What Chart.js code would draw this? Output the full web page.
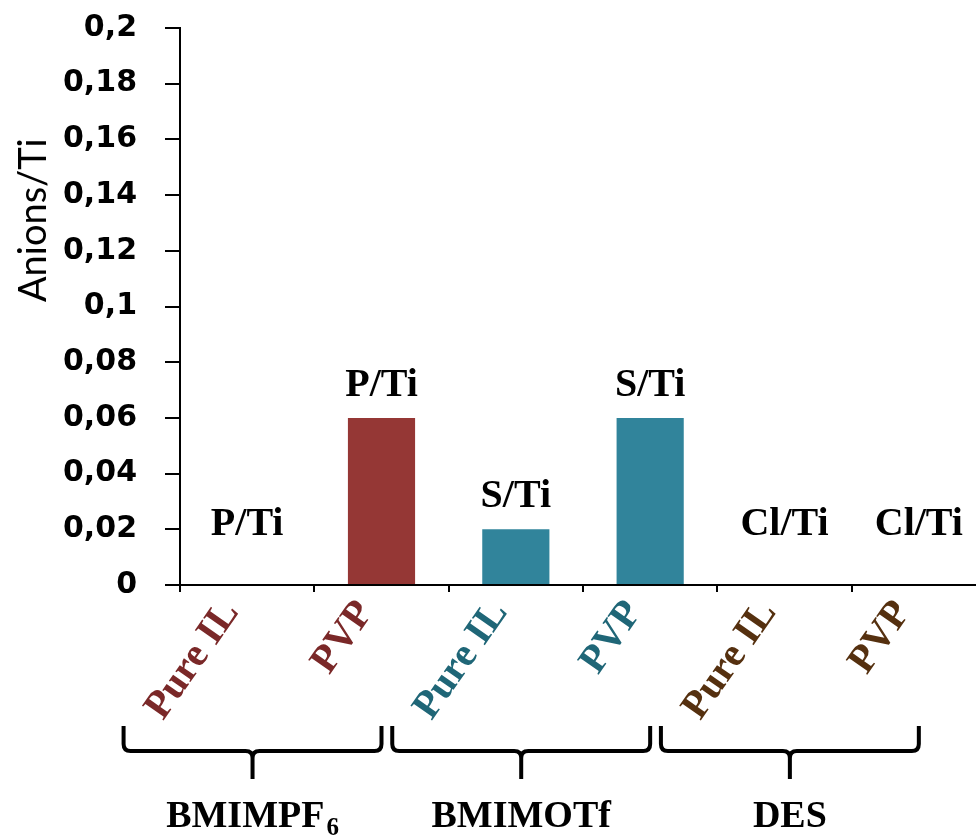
<!DOCTYPE html>
<html><head><meta charset="utf-8">
<script src="https://cdn.jsdelivr.net/npm/chart.js@4"></script>
<style>html,body{margin:0;padding:0;background:#fff;overflow:hidden}#wrap{width:990px;height:839px}canvas{display:block}</style>
</head><body>
<div id="wrap"><canvas id="c" width="990" height="839"></canvas></div>
<script>
// ---- data ----
const categories = ['Pure IL', 'PVP', 'Pure IL', 'PVP', 'Pure IL', 'PVP'];
const values = [0, 0.06, 0.02, 0.06, 0, 0];
const barLabels = ['P/Ti', 'P/Ti', 'S/Ti', 'S/Ti', 'Cl/Ti', 'Cl/Ti'];
const groupNames = ['BMIMPF', 'BMIMOTf', 'DES'];
const groupSubscripts = ['6', '', ''];
const groupFirst = [0, 2, 4];
const groupLast = [1, 3, 5];
const yTickLabels = ['0', '0,02', '0,04', '0,06', '0,08', '0,1', '0,12', '0,14', '0,16', '0,18', '0,2'];
const yTitle = 'Anions/Ti';

// ---- styles ----
const barColors = ['#953735', '#953735', '#31849B', '#31849B', '#7a4a1f', '#7a4a1f'];
const tickColors = ['#7a2828', '#7a2828', '#1f6677', '#1f6677', '#55300f', '#55300f'];
const SERIF = '"Liberation Serif", "Times New Roman", serif';

const yTitlePlugin = {
  id: 'yTitle',
  afterDraw(chart) {
    const { ctx, chartArea } = chart;
    ctx.save();
    ctx.translate(34, chartArea.top + (chartArea.bottom - chartArea.top) * 0.345);
    ctx.rotate(-Math.PI / 2);
    ctx.font = '38px Lato, "Open Sans", sans-serif';
    ctx.fillStyle = '#000';
    ctx.textAlign = 'center';
    ctx.textBaseline = 'middle';
    ctx.fillText(yTitle, 0, 0);
    ctx.restore();
  }
};

const barLabelPlugin = {
  id: 'barLabels',
  afterDatasetsDraw(chart) {
    const { ctx } = chart;
    const meta = chart.getDatasetMeta(0);
    const zero = chart.scales.y.getPixelForValue(0);
    ctx.save();
    ctx.font = 'bold 40px ' + SERIF;
    ctx.fillStyle = '#000';
    ctx.textAlign = 'center';
    ctx.textBaseline = 'alphabetic';
    meta.data.forEach((el, i) => {
      const base = Math.min(el.y - 22, zero - 50);
      ctx.fillText(barLabels[i], el.x, base);
    });
    ctx.restore();
  }
};

const bracePlugin = {
  id: 'braces',
  afterDraw(chart) {
    const { ctx, chartArea } = chart;
    const xs = chart.scales.x;
    const cw = xs.getPixelForValue(1) - xs.getPixelForValue(0);
    const b = chartArea.bottom;
    const hookTop = b + 141, lineY = b + 166, tipY = b + 194, textY = b + 242;
    ctx.save();
    ctx.strokeStyle = '#000';
    ctx.lineWidth = 4;
    ctx.lineJoin = 'round';
    ctx.lineCap = 'butt';
    groupNames.forEach((name, g) => {
      const L = xs.getPixelForValue(groupFirst[g]) - 0.92 * cw;
      const R = xs.getPixelForValue(groupLast[g]);
      const C = (L + R) / 2;
      const r = 7;
      ctx.beginPath();
      ctx.moveTo(L, hookTop);
      ctx.lineTo(L, lineY - r);
      ctx.quadraticCurveTo(L, lineY, L + r, lineY);
      ctx.lineTo(C - r, lineY);
      ctx.quadraticCurveTo(C, lineY, C, lineY + r);
      ctx.lineTo(C, tipY);
      ctx.moveTo(C, lineY + r);
      ctx.quadraticCurveTo(C, lineY, C + r, lineY);
      ctx.lineTo(R - r, lineY);
      ctx.quadraticCurveTo(R, lineY, R, lineY - r);
      ctx.lineTo(R, hookTop);
      ctx.stroke();

      ctx.fillStyle = '#000';
      ctx.textBaseline = 'alphabetic';
      ctx.textAlign = 'left';
      ctx.font = 'bold 38px ' + SERIF;
      const w1 = ctx.measureText(name).width;
      ctx.font = 'bold 25px ' + SERIF;
      const sub = groupSubscripts[g];
      const w2 = sub ? ctx.measureText(sub).width + 2 : 0;
      const start = C - (w1 + w2) / 2;
      ctx.font = 'bold 38px ' + SERIF;
      ctx.fillText(name, start, textY);
      if (sub) {
        ctx.font = 'bold 25px ' + SERIF;
        ctx.fillText(sub, start + w1 + 2, textY + 8);
      }
    });
    ctx.restore();
  }
};

new Chart(document.getElementById('c'), {
  type: 'bar',
  data: {
    labels: categories,
    datasets: [{
      data: values,
      backgroundColor: barColors,
      borderWidth: 0,
      barPercentage: 0.5,
      categoryPercentage: 1
    }]
  },
  options: {
    responsive: false,
    animation: false,
    layout: { padding: { top: 28, right: 4, left: 0, bottom: 0 } },
    plugins: { legend: { display: false }, tooltip: { enabled: false } },
    scales: {
      x: {
        offset: true,
        grid: { display: true, drawOnChartArea: false, drawTicks: true, tickLength: 7, color: '#000', lineWidth: 2, offset: true },
        border: { display: true, color: '#000', width: 2 },
        ticks: {
          autoSkip: false,
          minRotation: 55,
          maxRotation: 55,
          padding: 0,
          labelOffset: -16,
          color: (c) => tickColors[c.index],
          font: { family: SERIF, weight: 'bold', size: 40 }
        },
        afterFit(scale) { scale.height = 254; }
      },
      y: {
        min: 0,
        max: 0.2,
        grid: { display: true, drawOnChartArea: false, drawTicks: true, tickLength: 15, color: '#000', lineWidth: 2 },
        border: { display: true, color: '#000', width: 2 },
        ticks: {
          stepSize: 0.02,
          padding: 28,
          color: '#000',
          font: { family: '"DejaVu Sans", sans-serif', weight: 'bold', size: 30 },
          callback: (v, i) => yTickLabels[i]
        },
        afterFit(scale) { scale.width = 180; scale.paddingTop = 0; scale.paddingBottom = 0; }
      }
    }
  },
  plugins: [yTitlePlugin, barLabelPlugin, bracePlugin]
});
</script>
</body></html>
